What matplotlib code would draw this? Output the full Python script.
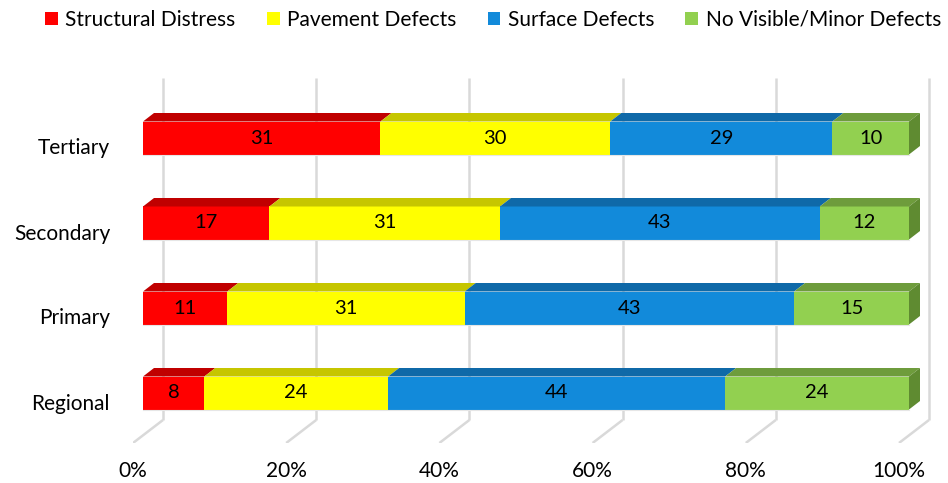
import numpy as np
import matplotlib.pyplot as plt
from matplotlib.patches import Polygon, Patch
from matplotlib.transforms import ScaledTranslation

plt.rcParams['font.family'] = ['Lato', 'DejaVu Sans']

categories = ['Regional', 'Primary', 'Secondary', 'Tertiary']
series = ['Structural Distress', 'Pavement Defects', 'Surface Defects',
          'No Visible/Minor Defects']
structural = [8, 11, 17, 31]
pavement = [24, 31, 31, 30]
surface = [44, 43, 43, 29]
no_visible = [24, 15, 12, 10]
x_ticks = [0, 20, 40, 60, 80, 100]

front_colors = ['#FF0000', '#FFFF00', '#128ADA', '#92D050']
top_colors = ['#C00000', '#C6C600', '#0F69A8', '#6E9C3C']
side_color = '#5F8B31'
grid_color = '#D9D9D9'

values = np.array([structural, pavement, surface, no_visible], dtype=float)
shares = values / values.sum(axis=0) * 100  # 100% stacked

W, H, dpi = 948, 483, 100
fig = plt.figure(figsize=(W / dpi, H / dpi), dpi=dpi)

# pixel scale of the axes: per percent and per category step
sx = 7.66
sy = 85.0
ax = fig.add_axes([133 / W, 40 / H, 815 / W, 383 / H])
ax.set_xlim(-10 / sx, 805 / sx)
ax.set_ylim(-50 / sy, 333 / sy)

# oblique depth offsets
bar_dx, bar_dy = 11 / sx, 8.5 / sy
half = 16.5 / sy
floor_back_y = -27 / sy
floor_front_y = -50 / sy
wall_top = 315 / sy

# back wall gridlines and floor lines
for p in x_ticks:
    xb = p + 20 / sx
    ax.plot([xb, xb], [floor_back_y, wall_top], color=grid_color, lw=1.8,
            solid_capstyle='butt', zorder=1)
    ax.plot([xb, p - 10 / sx], [floor_back_y, floor_front_y], color=grid_color,
            lw=1.8, solid_capstyle='butt', zorder=1)

# 3D bars
for i, cat in enumerate(categories):
    y0, y1 = i - half, i + half
    left = 0.0
    for s in range(len(series)):
        w = shares[s, i]
        right = left + w
        front = Polygon([(left, y0), (right, y0), (right, y1), (left, y1)],
                        closed=True, facecolor=front_colors[s],
                        edgecolor='none', zorder=3)
        top = Polygon([(left, y1), (right, y1), (right + bar_dx, y1 + bar_dy),
                       (left + bar_dx, y1 + bar_dy)], closed=True,
                      facecolor=top_colors[s], edgecolor='none', zorder=3)
        ax.add_patch(front)
        ax.add_patch(top)
        ax.text((left + right) / 2, i, f'{int(values[s, i])}', ha='center',
                va='center', fontsize=14.5, color='black', zorder=5)
        left = right
    side = Polygon([(left, y0), (left + bar_dx, y0 + bar_dy),
                    (left + bar_dx, y1 + bar_dy), (left, y1)], closed=True,
                   facecolor=side_color, edgecolor='none', zorder=3)
    ax.add_patch(side)
    ax.plot([0, left], [y0, y0], color='#E6E6E6', lw=0.8, zorder=4)

for sp in ax.spines.values():
    sp.set_visible(False)
ax.set_facecolor('none')

ax.set_yticks(range(len(categories)))
ax.set_yticklabels(categories, fontsize=15)
ax.set_xticks(x_ticks)
ax.set_xticklabels([f'{t}%' for t in x_ticks], fontsize=15)
ax.tick_params(axis='both', length=0)
ax.tick_params(axis='y', pad=16.5)
ax.tick_params(axis='x', pad=13)

down = ScaledTranslation(0, -8.5 / dpi, fig.dpi_scale_trans)
for lab in ax.get_yticklabels():
    lab.set_transform(lab.get_transform() + down)
shift = ScaledTranslation(-10 / dpi, 0, fig.dpi_scale_trans)
for lab in ax.get_xticklabels():
    lab.set_transform(lab.get_transform() + shift)

handles = [Patch(facecolor=c, edgecolor='none') for c in front_colors]
fig.legend(handles, series, loc='center', bbox_to_anchor=(493 / W, 1 - 20 / H),
           ncol=4, frameon=False, fontsize=15, handlelength=0.62,
           handleheight=0.62, handletextpad=0.35, columnspacing=1.5,
           borderpad=0.2, borderaxespad=0)

fig.savefig('out.png', dpi=dpi)
